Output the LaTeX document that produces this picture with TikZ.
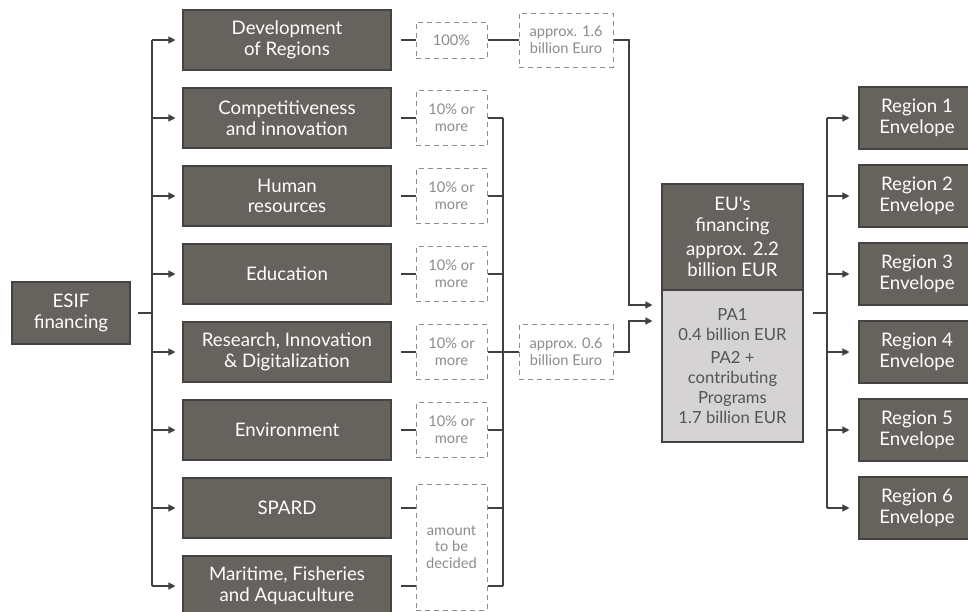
\documentclass[tikz,border=0pt]{standalone}
\usepackage{fontspec}
\setmainfont{Lato}[Ligatures=TeXOff]
\usetikzlibrary{arrows.meta}

\newlength{\du}
\setlength{\du}{0.75pt}

\definecolor{boxfill}{HTML}{66625E}
\definecolor{boxline}{HTML}{45423F}
\definecolor{sharegray}{HTML}{8C8C8C}
\definecolor{linkgray}{HTML}{404040}
\definecolor{palefill}{HTML}{D5D3D4}
\definecolor{paletext}{HTML}{555555}

\tikzset{
  fundbox/.style={draw=boxline, fill=boxfill, text=white, line width=1.1\du,
    inner sep=0pt, align=center, minimum width=208\du, minimum height=60\du,
    font=\fontsize{14}{15.5}\selectfont},
  regionbox/.style={fundbox, minimum width=116\du, minimum height=62\du},
  sharebox/.style={draw=sharegray, text=sharegray, line width=1\du,
    dash pattern=on 5\du off 4\du, inner sep=0pt, align=center,
    minimum width=71\du, minimum height=55\du,
    font=\fontsize{11}{12.5}\selectfont},
  eurobox/.style={sharebox, minimum width=94\du},
  link/.style={draw=linkgray, line width=1.2\du},
  feed/.style={link, -{Triangle[length=5.25pt,width=5.25pt]}},
}

\begin{document}
\begin{tikzpicture}[yscale=-1]
\clip (0,0) rectangle (968\du,611\du);
\fill[white] (0,0) rectangle (968\du,611\du);

% source
\node[fundbox, minimum width=118\du, minimum height=62\du] (esif) at (71\du,313\du) {ESIF\\financing};

% funds
\node[fundbox] (dev) at (287\du,40\du) {Development\\of Regions};
\node[fundbox] (comp) at (287\du,118\du) {Competitiveness\\and innovation};
\node[fundbox] (hum) at (287\du,196\du) {Human\\resources};
\node[fundbox] (edu) at (287\du,274\du) {Education};
\node[fundbox] (rid) at (287\du,352\du) {Research, Innovation\\\& Digitalization};
\node[fundbox] (env) at (287\du,430\du) {Environment};
\node[fundbox] (spard) at (287\du,508\du) {SPARD};
\node[fundbox] (mar) at (287\du,586\du) {Maritime, Fisheries\\and Aquaculture};

% shares
\node[sharebox, minimum height=36\du] (pdev) at (451.5\du,40\du) {100\%};
\node[sharebox] (pcomp) at (451.5\du,118\du) {10\% or\\more};
\node[sharebox] (phum) at (451.5\du,196\du) {10\% or\\more};
\node[sharebox] (pedu) at (451.5\du,274\du) {10\% or\\more};
\node[sharebox] (prid) at (451.5\du,352\du) {10\% or\\more};
\node[sharebox] (penv) at (451.5\du,430\du) {10\% or\\more};
\node[sharebox, minimum height=126\du] (pamt) at (451.5\du,547\du) {amount\\to be\\decided};

\node[eurobox, minimum height=54\du] (eur16) at (566\du,40\du) {approx. 1.6\\billion Euro};
\node[eurobox] (eur06) at (566\du,352\du) {approx. 0.6\\billion Euro};

% EU financing
\node[fundbox, minimum width=141\du, minimum height=106\du] (eutop) at (732.5\du,237\du) {EU's\\financing\\[4\du]approx. 2.2\\billion EUR};
\node[fundbox, fill=palefill, text=paletext, minimum width=141\du, minimum height=152\du,
  font=\fontsize{12.5}{15}\selectfont] (eubot) at (732.5\du,366\du) {PA1\\0.4 billion EUR\\[3\du]PA2 +\\contributing\\Programs\\1.7 billion EUR};

% regions
\node[regionbox] (reg1) at (917\du,118\du) {Region 1\\Envelope};
\node[regionbox] (reg2) at (917\du,196\du) {Region 2\\Envelope};
\node[regionbox] (reg3) at (917\du,274\du) {Region 3\\Envelope};
\node[regionbox] (reg4) at (917\du,352\du) {Region 4\\Envelope};
\node[regionbox] (reg5) at (917\du,430\du) {Region 5\\Envelope};
\node[regionbox] (reg6) at (917\du,508\du) {Region 6\\Envelope};

\coordinate (busL) at (152\du,313\du);
\coordinate (busM) at (503\du,118\du);
\coordinate (busR) at (629\du,305\du);
\coordinate (busRb) at (629\du,321\du);
\coordinate (busO) at (827\du,313\du);

% ESIF to funds
\draw[link, shorten <=7\du] (esif.east) -- (busL);
\draw[link] (busL |- dev.west) -- (busL |- mar.west);
\draw[feed, shorten >=7\du] (busL |- dev.west) -- (dev.west);
\draw[feed, shorten >=7\du] (busL |- comp.west) -- (comp.west);
\draw[feed, shorten >=7\du] (busL |- hum.west) -- (hum.west);
\draw[feed, shorten >=7\du] (busL |- edu.west) -- (edu.west);
\draw[feed, shorten >=7\du] (busL |- rid.west) -- (rid.west);
\draw[feed, shorten >=7\du] (busL |- env.west) -- (env.west);
\draw[feed, shorten >=7\du] (busL |- spard.west) -- (spard.west);
\draw[feed, shorten >=7\du] (busL |- mar.west) -- (mar.west);

% funds to shares
\draw[link, shorten <=9\du] (dev.east) -- (pdev.west);
\draw[link, shorten <=9\du] (comp.east) -- (pcomp.west);
\draw[link, shorten <=9\du] (hum.east) -- (phum.west);
\draw[link, shorten <=9\du] (edu.east) -- (pedu.west);
\draw[link, shorten <=9\du] (rid.east) -- (prid.west);
\draw[link, shorten <=9\du] (env.east) -- (penv.west);
\draw[link, shorten <=9\du] (spard.east) -- (spard.east -| pamt.west);
\draw[link, shorten <=9\du] (mar.east) -- (mar.east -| pamt.west);

% shares to amounts
\draw[link] (pdev.east) -- (eur16.west);
\draw[link] (busM) -- (busM |- mar.east);
\draw[link] (pcomp.east) -- (busM |- pcomp.east);
\draw[link] (phum.east) -- (busM |- phum.east);
\draw[link] (pedu.east) -- (busM |- pedu.east);
\draw[link] (prid.east) -- (eur06.west);
\draw[link] (penv.east) -- (busM |- penv.east);
\draw[link] (pamt.east |- spard.east) -- (busM |- spard.east);
\draw[link] (pamt.east |- mar.east) -- (busM |- mar.east);

% amounts to EU financing
\draw[feed, shorten >=9\du] (eur16.east) -| (busR) -- (busR -| eubot.west);
\draw[feed, shorten >=9\du] (eur06.east) -| (busRb) -- (busRb -| eubot.west);

% EU financing to regions
\draw[link, shorten <=9\du] (eubot.east |- busO) -- (busO);
\draw[link] (busO |- reg1.west) -- (busO |- reg6.west);
\draw[feed, shorten >=9\du] (busO |- reg1.west) -- (reg1.west);
\draw[feed, shorten >=9\du] (busO |- reg2.west) -- (reg2.west);
\draw[feed, shorten >=9\du] (busO |- reg3.west) -- (reg3.west);
\draw[feed, shorten >=9\du] (busO |- reg4.west) -- (reg4.west);
\draw[feed, shorten >=9\du] (busO |- reg5.west) -- (reg5.west);
\draw[feed, shorten >=9\du] (busO |- reg6.west) -- (reg6.west);
\end{tikzpicture}
\end{document}
